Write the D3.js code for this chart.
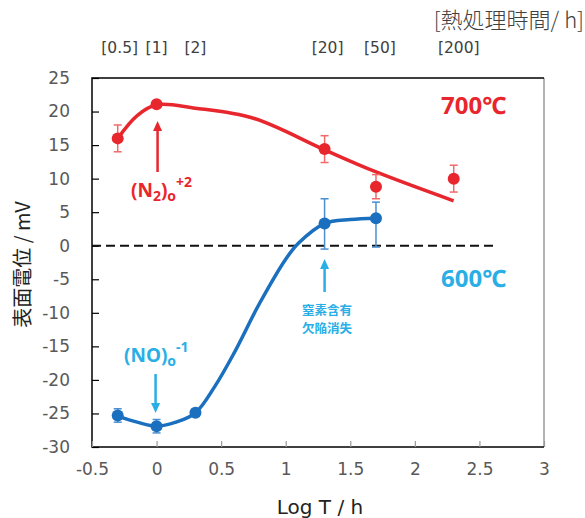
<!DOCTYPE html>
<html><head><meta charset="utf-8">
<script src="https://cdn.jsdelivr.net/npm/d3@7"></script>
<style>body{margin:0;background:#fff}svg{display:block}</style>
</head><body><svg id="c" width="585" height="518"></svg>
<script>
// ---- data ----
const logT = [-0.301, 0, 0.301, 1.301, 1.699, 2.301];
const hoursLabels = ["[0.5]", "[1]", "[2]", "[20]", "[50]", "[200]"];
const x700 = [-0.301, 0, 1.301, 1.699, 2.301];
const y700 = [16.0, 21.1, 14.4, 8.8, 10.0];
const err700 = [2.0, 0, 2.0, 1.8, 2.0];
const x600 = [-0.301, 0, 0.301, 1.301, 1.699];
const y600 = [-25.3, -26.9, -24.9, 3.3, 4.1];
const err600Lo = [1.0, 1.0, 0.5, 3.8, 4.3];
const err600Hi = [1.0, 1.0, 0.5, 3.7, 2.4];
// fitted curves
const fit700x = [-0.301, -0.15, 0, 0.3, 0.75, 1.3, 1.7, 2.3];
const fit700y = [16.0, 19.4, 21.0, 20.5, 19.0, 14.3, 11.0, 6.7];
const fit600x = [-0.301, -0.15, 0, 0.15, 0.301, 0.45, 0.6, 0.8, 1.0, 1.1, 1.3, 1.5, 1.699];
const fit600y = [-25.4, -26.3, -26.9, -26.3, -24.9, -21.0, -16.0, -8.5, -2.0, 0.4, 3.3, 3.9, 4.1];
const xTicks = [-0.5, 0, 0.5, 1, 1.5, 2, 2.5, 3];
const yTicks = [25, 20, 15, 10, 5, 0, -5, -10, -15, -20, -25, -30];
const zeroLineX = [-0.5, 2.64];

const RED = "#e8262d", RED_ERR = "#f06a6a";
const BLUE = "#1a70bf", BLUE_ERR = "#4a8fd0", LBLUE = "#29aee6";
const NUMF = "'DejaVu Sans', Verdana, sans-serif";
const JPF = "'Noto Sans CJK JP', sans-serif";

const svg = d3.select("#c");
const L = 92, R = 544, T = 78, B = 447;
const x = d3.scaleLinear().domain([-0.5, 3]).range([L, R]);
const y = d3.scaleLinear().domain([-30, 25]).range([B, T]);

// frame
svg.append("line").attr("x1", R).attr("x2", R).attr("y1", T).attr("y2", B).attr("stroke", "#8c8c8c").attr("stroke-width", 1.3);
svg.append("path").attr("d", `M${R},${T}H${L}V${B}H${R}`).attr("fill", "none").attr("stroke", "#000").attr("stroke-width", 1.5);

// y axis
const ya = svg.append("g").attr("transform", `translate(${L},0)`)
  .call(d3.axisLeft(y).tickValues(yTicks).tickSize(-7).tickPadding(22).tickFormat(d => String(d)));
ya.select(".domain").remove();
ya.selectAll("line").attr("stroke", "#000").attr("stroke-width", 1.2);
ya.selectAll("text").attr("font-family", NUMF).attr("font-size", 17).attr("fill", "#595959");

// x axis
const xa = svg.append("g").attr("transform", `translate(0,${B})`)
  .call(d3.axisBottom(x).tickValues(xTicks).tickSize(-6).tickPadding(16).tickFormat(d => String(d)));
xa.select(".domain").remove();
xa.selectAll("line").attr("stroke", "#999").attr("stroke-width", 1.2);
xa.selectAll("text").attr("font-family", NUMF).attr("font-size", 17).attr("fill", "#595959");

// axis titles
svg.append("text").attr("transform", `translate(30,${(T + B) / 2 + 2}) rotate(-90)`).attr("text-anchor", "middle")
  .attr("font-family", JPF).attr("font-size", 20).attr("fill", "#222").text("表面電位 / mV");
svg.append("text").attr("x", 320).attr("y", 514).attr("text-anchor", "middle")
  .attr("font-family", NUMF).attr("font-size", 20).attr("fill", "#222").text("Log T / h");

// top hours labels
svg.selectAll(".hl").data(logT).enter().append("text")
  .attr("x", (d, i) => x(d) + [2, 0, 0, 3, 4, 5][i]).attr("y", 53).attr("text-anchor", "middle")
  .attr("font-family", NUMF).attr("font-size", 15.5).attr("fill", "#404040").text((d, i) => hoursLabels[i]);
svg.append("text").attr("x", 584).attr("y", 28).attr("text-anchor", "end")
  .attr("font-family", JPF).attr("font-size", 22).attr("font-weight", 300).attr("fill", "#404040").text("[熱処理時間/ h]");

// zero dashed line
svg.append("line").attr("x1", x(zeroLineX[0])).attr("x2", x(zeroLineX[1])).attr("y1", y(0)).attr("y2", y(0))
  .attr("stroke", "#111").attr("stroke-width", 2).attr("stroke-dasharray", "9,5");

// curves
const line = d3.line().x(d => x(d[0])).y(d => y(d[1])).curve(d3.curveCatmullRom.alpha(0.5));
svg.append("path").attr("d", line(fit700x.map((v, i) => [v, fit700y[i]])))
  .attr("fill", "none").attr("stroke", RED).attr("stroke-width", 3.5);
svg.append("path").attr("d", line(fit600x.map((v, i) => [v, fit600y[i]])))
  .attr("fill", "none").attr("stroke", BLUE).attr("stroke-width", 3.5);

// error bars
function errBars(xs, lo, hi, color) {
  const g = svg.append("g").attr("stroke", color).attr("stroke-width", 1.5);
  xs.forEach((xv, i) => {
    if (lo[i] === hi[i]) return;
    g.append("line").attr("x1", x(xv)).attr("x2", x(xv)).attr("y1", y(hi[i])).attr("y2", y(lo[i]));
    g.append("line").attr("x1", x(xv) - 4).attr("x2", x(xv) + 4).attr("y1", y(hi[i])).attr("y2", y(hi[i]));
    g.append("line").attr("x1", x(xv) - 4).attr("x2", x(xv) + 4).attr("y1", y(lo[i])).attr("y2", y(lo[i]));
  });
}
errBars(x700, y700.map((v, i) => v - err700[i]), y700.map((v, i) => v + err700[i]), RED_ERR);
errBars(x600, y600.map((v, i) => v - err600Lo[i]), y600.map((v, i) => v + err600Hi[i]), BLUE_ERR);

// points
svg.selectAll(".p7").data(x700).enter().append("circle")
  .attr("cx", d => x(d)).attr("cy", (d, i) => y(y700[i])).attr("r", 6).attr("fill", RED);
svg.selectAll(".p6").data(x600).enter().append("circle")
  .attr("cx", d => x(d)).attr("cy", (d, i) => y(y600[i])).attr("r", 6).attr("fill", BLUE);

// arrows
function arrow(xp, y1, y2, color) {
  const dir = y2 < y1 ? -1 : 1;
  svg.append("line").attr("x1", xp).attr("x2", xp).attr("y1", y1).attr("y2", y2 - dir * 8)
    .attr("stroke", color).attr("stroke-width", 2.5);
  svg.append("path").attr("d", `M${xp},${y2}L${xp - 4.5},${y2 - dir * 10}L${xp + 4.5},${y2 - dir * 10}Z`).attr("fill", color);
}
arrow(x(0) + 1, 172, 121, RED);
arrow(x(0) - 1, 374, 413, LBLUE);
arrow(x(1.301), 292, 259, LBLUE);

// annotations
const bold = (sel) => sel.attr("font-family", "'Noto Sans', 'DejaVu Sans', sans-serif").attr("font-weight", "bold");
const t1 = bold(svg.append("text").attr("x", 131).attr("y", 197).attr("fill", RED).attr("font-size", 19));
t1.append("tspan").text("(N");
t1.append("tspan").attr("font-size", 14).attr("dy", 4).text("2");
t1.append("tspan").attr("dy", -4).text(")");
t1.append("tspan").attr("font-size", 14).attr("dy", 4).text("o");
t1.append("tspan").attr("font-size", 14).attr("dy", -14).text("+2");

const t2 = bold(svg.append("text").attr("x", 124).attr("y", 362).attr("fill", LBLUE).attr("font-size", 19));
t2.append("tspan").text("(NO)");
t2.append("tspan").attr("font-size", 14).attr("dy", 4).text("o");
t2.append("tspan").attr("font-size", 14).attr("dy", -14).text("-1");

bold(svg.append("text").attr("x", 441).attr("y", 114).attr("fill", RED).attr("font-size", 24)).text("700℃");
bold(svg.append("text").attr("x", 441).attr("y", 287).attr("fill", LBLUE).attr("font-size", 24)).text("600℃");

svg.append("text").attr("x", 327).attr("y", 315).attr("text-anchor", "middle").attr("font-family", JPF)
  .attr("font-weight", "bold").attr("font-size", 12.5).attr("fill", LBLUE).text("窒素含有");
svg.append("text").attr("x", 327).attr("y", 333).attr("text-anchor", "middle").attr("font-family", JPF)
  .attr("font-weight", "bold").attr("font-size", 12.5).attr("fill", LBLUE).text("欠陥消失");
</script></body></html>
